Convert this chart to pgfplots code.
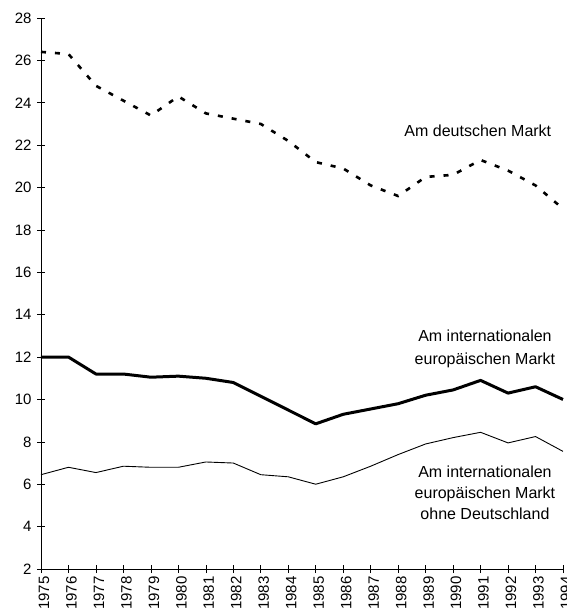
\documentclass[border=0pt]{standalone}
\usepackage{fontspec}
\setmainfont{Liberation Sans}
\usepackage{pgfplots}
\pgfplotsset{compat=1.18}

\begin{document}
\begin{tikzpicture}
\begin{axis}[
    at={(0,0)}, anchor=south west,
    scale only axis, width=522pt, height=551pt,
    xmin=1975, xmax=1994, ymin=2, ymax=28,
    axis x line*=bottom, axis y line*=left,
    axis line style={-, line width=0.8pt},
    xtick={1975,...,1994}, ytick={2,4,...,28},
    tick align=center, major tick length=8pt,
    tick style={black, line width=0.6pt},
    /pgf/number format/assume math mode=true,
    /pgf/number format/1000 sep={},
    tick label style={font=\fontsize{15}{15}\selectfont},
    x tick label style={rotate=90, anchor=east, yshift=-3pt},
    y tick label style={xshift=-2pt},
    clip=false,
]
% Am deutschen Markt
\addplot[black, line width=2.6pt, dash pattern=on 5pt off 9pt] coordinates {
    (1975,26.4) (1976,26.3) (1977,24.8) (1978,24.1) (1979,23.4)
    (1980,24.3) (1981,23.5) (1982,23.25) (1983,23.0) (1984,22.2)
    (1985,21.2) (1986,20.9) (1987,20.1) (1988,19.6) (1989,20.5)
    (1990,20.6) (1991,21.3) (1992,20.8) (1993,20.1) (1994,19.0)
};
% internationaler europaeischer Markt
\addplot[black, line width=3pt, line join=round] coordinates {
    (1975,12.0) (1976,12.0) (1977,11.2) (1978,11.2) (1979,11.05)
    (1980,11.1) (1981,11.0) (1982,10.8) (1983,10.15) (1984,9.5)
    (1985,8.85) (1986,9.3) (1987,9.55) (1988,9.8) (1989,10.2)
    (1990,10.45) (1991,10.9) (1992,10.3) (1993,10.6) (1994,10.0)
};
% ohne Deutschland
\addplot[black, line width=0.9pt] coordinates {
    (1975,6.45) (1976,6.8) (1977,6.55) (1978,6.85) (1979,6.8)
    (1980,6.8) (1981,7.05) (1982,7.0) (1983,6.45) (1984,6.35)
    (1985,6.0) (1986,6.35) (1987,6.85) (1988,7.4) (1989,7.9)
    (1990,8.2) (1991,8.45) (1992,7.95) (1993,8.25) (1994,7.55)
};

\node[font=\fontsize{16}{23}\selectfont, align=center] at (axis cs:1990.9,22.7) {Am deutschen Markt};
\node[font=\fontsize{16}{23}\selectfont, align=center] at (axis cs:1991.16,12.38) {Am internationalen\\europäischen Markt};
\node[font=\fontsize{16}{21}\selectfont, align=center] at (axis cs:1991.16,5.59) {Am internationalen\\europäischen Markt\\ohne Deutschland};
\end{axis}
\pgfresetboundingbox
\path (-41pt,-42pt) rectangle (525pt,569pt);
\end{tikzpicture}
\end{document}
